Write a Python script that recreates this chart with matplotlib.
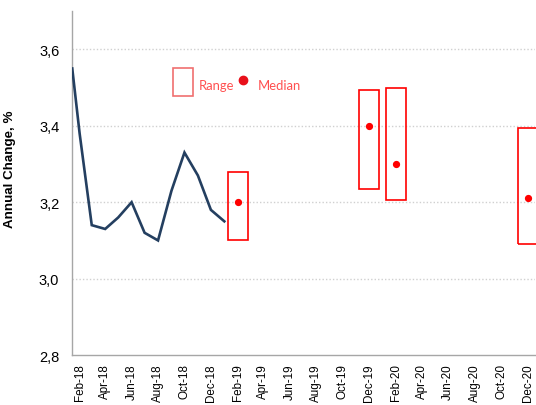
import numpy as np
import pandas as pd
import matplotlib
matplotlib.use('Agg')
from matplotlib import pyplot as plt
import matplotlib.dates as mdates
from matplotlib.patches import Rectangle

# history (monthly) - first point sits mid-January at the axis edge
hist_dates = ['2018-01-15', '2018-02-01', '2018-03-01', '2018-04-01', '2018-05-01',
              '2018-06-01', '2018-07-01', '2018-08-01', '2018-09-01', '2018-10-01',
              '2018-11-01', '2018-12-01', '2019-01-01']
hist_values = [3.55, 3.38, 3.14, 3.13, 3.16, 3.20, 3.12, 3.10, 3.23, 3.33, 3.27, 3.18, 3.15]

# forecasts: range (low/high) and median
fc_dates = ['2019-02-01', '2019-12-01', '2020-02-01', '2020-12-01']
fc_low = [3.10, 3.235, 3.205, 3.09]
fc_high = [3.28, 3.495, 3.50, 3.395]
fc_median = [3.20, 3.40, 3.30, 3.21]

y_ticks = [2.8, 3.0, 3.2, 3.4, 3.6]
y_ticklabels = ['2,8', '3,0', '3,2', '3,4', '3,6']

hist_x = mdates.date2num(pd.to_datetime(hist_dates))
fc_x = mdates.date2num(pd.to_datetime(fc_dates))

fig = plt.figure(figsize=(5.36, 4.06), dpi=100)
ax = fig.add_axes([0.134, 0.123, 0.864, 0.847])

ax.plot(hist_x, hist_values, color='#243F60', lw=1.9, solid_joinstyle='miter', zorder=3)

box_w = 46  # days
for x, lo, hi, med in zip(fc_x, fc_low, fc_high, fc_median):
    ax.add_patch(Rectangle((x - box_w / 2, lo), box_w, hi - lo, fill=False,
                           edgecolor='#FF0000', lw=1.2, zorder=3, clip_on=False))
    ax.plot(x, med, 'o', color='#FF0000', ms=4.2, zorder=4)

ax.set_xlim(mdates.date2num(pd.Timestamp('2018-01-14')),
            mdates.date2num(pd.Timestamp('2020-12-18')))
ax.set_ylim(2.8, 3.7)

ax.xaxis.set_major_locator(mdates.MonthLocator(bymonth=[2, 4, 6, 8, 10, 12]))
ax.xaxis.set_major_formatter(mdates.DateFormatter('%b-%y'))
ax.set_yticks(y_ticks)
ax.set_yticklabels(y_ticklabels)

for lab in ax.get_xticklabels():
    lab.set_rotation(90)
    lab.set_fontfamily('Liberation Sans')
    lab.set_fontsize(8.4)
for lab in ax.get_yticklabels():
    lab.set_fontfamily('Liberation Sans')
    lab.set_fontsize(10.5)

ax.tick_params(axis='x', length=0, pad=6)
ax.tick_params(axis='y', length=0, pad=9)

for y in y_ticks[1:]:
    ax.axhline(y, color='#D0D0D0', lw=1, ls=(0, (1, 1.5)), zorder=1)

for s in ['top', 'right']:
    ax.spines[s].set_visible(False)
for s in ['left', 'bottom']:
    ax.spines[s].set_color('#A6A6A6')
    ax.spines[s].set_linewidth(1)

ax.set_ylabel('Annual Change, %', fontfamily='Liberation Sans', fontweight='bold',
              fontsize=9.6)
ax.yaxis.set_label_coords(-0.121, 0.544)

# hand-made key
fig.patches.append(Rectangle((173 / 536, 1 - 97 / 406), 20 / 536, 28 / 406,
                             transform=fig.transFigure, fill=False,
                             edgecolor='#F07070', lw=1.2))
fig.text(199 / 536, 1 - 86 / 406, 'Range', color='#FF5050', fontfamily='Lato',
         fontsize=9.4, va='center', ha='left')
ax.plot([243 / 536], [1 - 81 / 406], 'o', color='#E8101A', ms=6,
        transform=fig.transFigure, clip_on=False)
fig.text(258 / 536, 1 - 86 / 406, 'Median', color='#FF5050', fontfamily='Lato',
         fontsize=9.4, va='center', ha='left')

fig.savefig('out.png', dpi=100)
plt.close()
